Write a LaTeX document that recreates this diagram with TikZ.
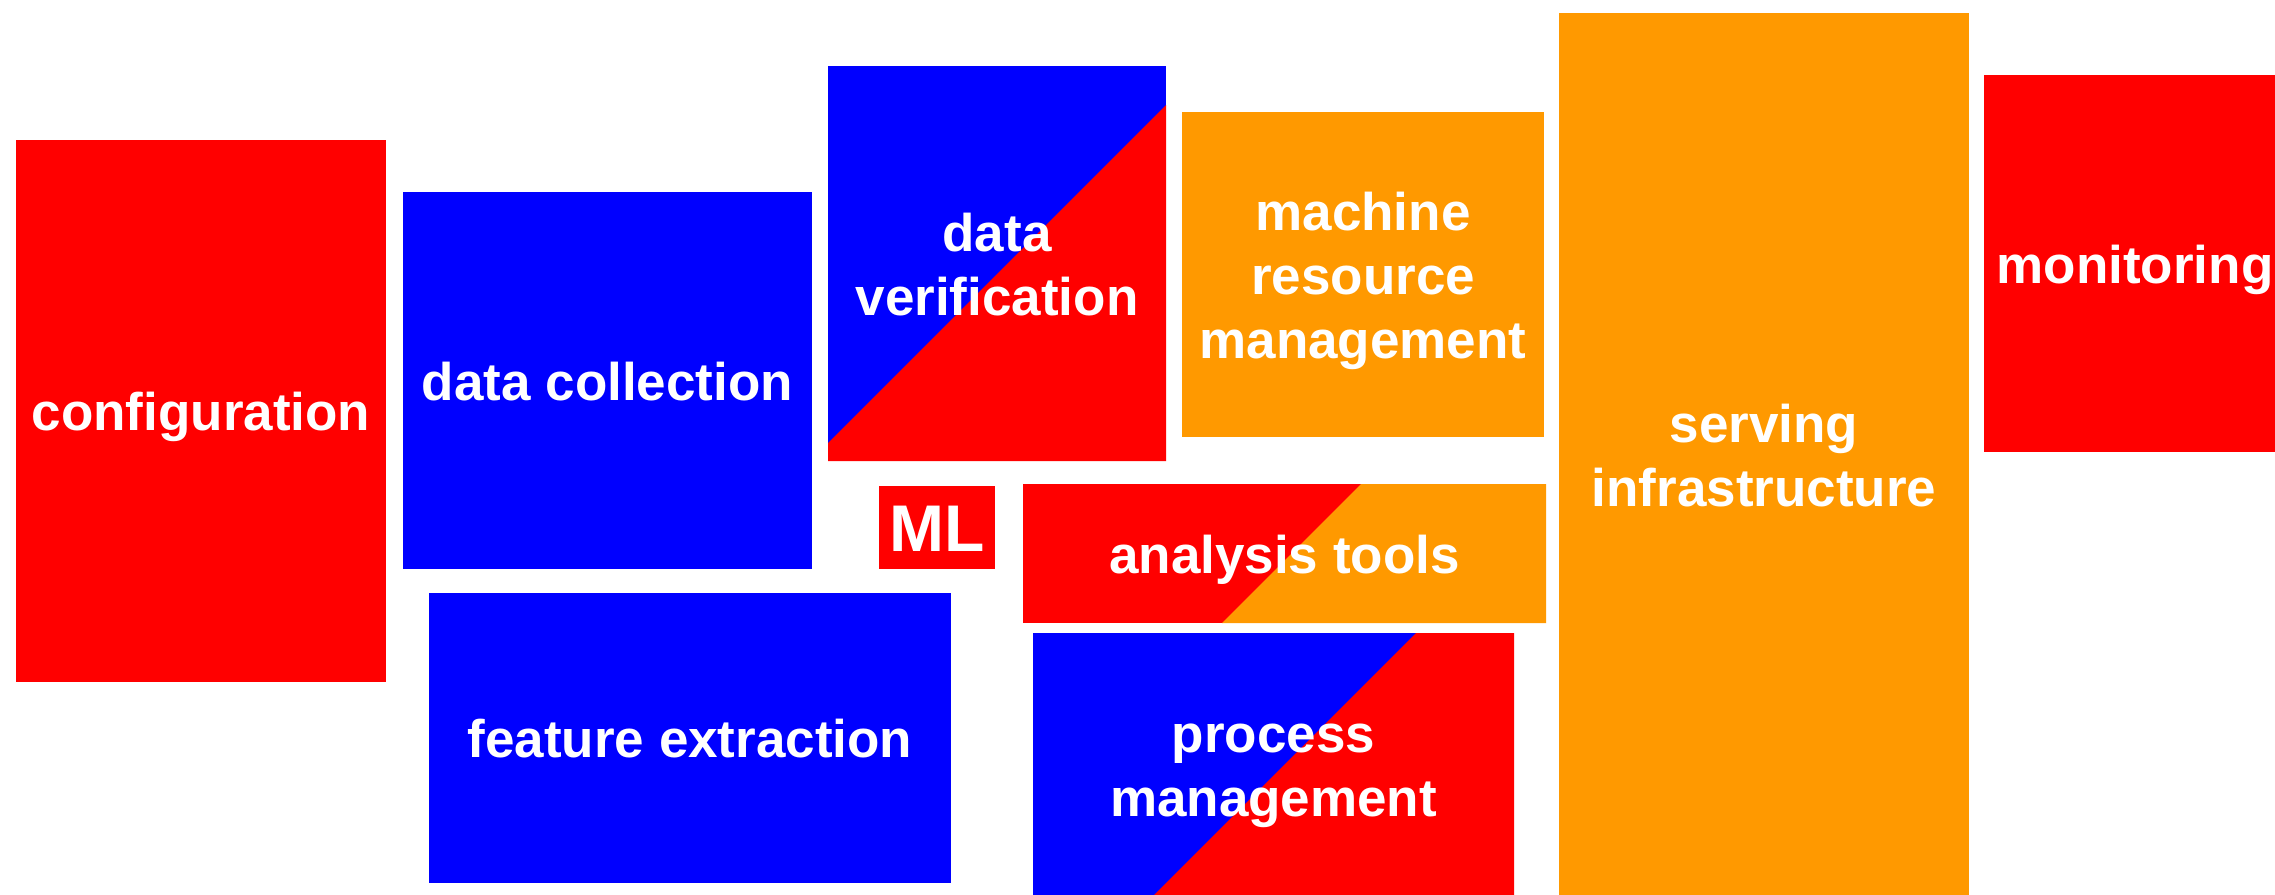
\documentclass[tikz,border=0pt]{standalone}
\usepackage{fontspec}
\setmainfont{Liberation Sans}
\definecolor{cred}{RGB}{255,0,0}
\definecolor{cblue}{RGB}{0,0,255}
\definecolor{corange}{RGB}{255,153,0}
\newcommand{\boxline}[1]{\raisebox{0pt}[0.74em][0pt]{#1}}
\begin{document}
\begin{tikzpicture}[x=0.5pt,y=-0.5pt,
  blk/.style={rectangle, inner sep=0pt, outer sep=0pt, draw=none, text=white, align=center,
    font=\bfseries\fontsize{26.5}{32}\selectfont},
  bigtxt/.style={font=\bfseries\fontsize{33}{40}\selectfont}
]
\useasboundingbox (0,0) rectangle (2275,894);
\fill[white] (0,0) rectangle (2275,894);
\clip (0,0) rectangle (2275,894);

% solid boxes
\node[blk, fill=cred, minimum width=185pt, minimum height=271pt] (config) at (201,411) {\boxline{configuration}};
\node[blk, fill=cblue, minimum width=204.5pt, minimum height=188.5pt] (collect) at (607.5,380.5) {\boxline{data collection}};
\node[blk, fill=corange, minimum width=181pt, minimum height=162.5pt] (mrm) at (1363,274.5) {\boxline{machine}\\\boxline{resource}\\\boxline{management}};
\node[blk, fill=corange, minimum width=205pt, minimum height=442pt] (serving) at (1764,455) {\boxline{serving}\\\boxline{infrastructure}};
\node[blk, fill=cred, minimum width=151pt, minimum height=188.5pt] (monitor) at (2135,263.5) {\boxline{monitoring}};
\node[blk, bigtxt, fill=cred, minimum width=58pt, minimum height=41.5pt] (ml) at (937,527.5) {\boxline{ML}};
\node[blk, fill=cblue, minimum width=261pt, minimum height=145pt] (feature) at (690,738) {\boxline{feature extraction}};

% two-colour boxes
\fill[cblue] (828,66) rectangle (1166,461);
\fill[cred] (828,443) -- (1166,105) -- (1166,461) -- (828,461) -- cycle;
\node[blk, minimum width=169pt, minimum height=197.5pt] (verif) at (997,263.5) {\boxline{data}\\\boxline{verification}};

\fill[cred] (1023,484) rectangle (1546,623);
\fill[corange] (1361,484) -- (1546,484) -- (1546,623) -- (1222,623) -- cycle;
\node[blk, minimum width=261.5pt, minimum height=69.5pt] (analysis) at (1284.5,553.5) {\boxline{analysis tools}};

\fill[cblue] (1033,633) rectangle (1514,896);
\fill[cred] (1416,633) -- (1514,633) -- (1514,896) -- (1153,896) -- cycle;
\node[blk, minimum width=240.5pt, minimum height=131.5pt] (process) at (1273.5,764.5) {\boxline{process}\\\boxline{management}};
\end{tikzpicture}
\end{document}
